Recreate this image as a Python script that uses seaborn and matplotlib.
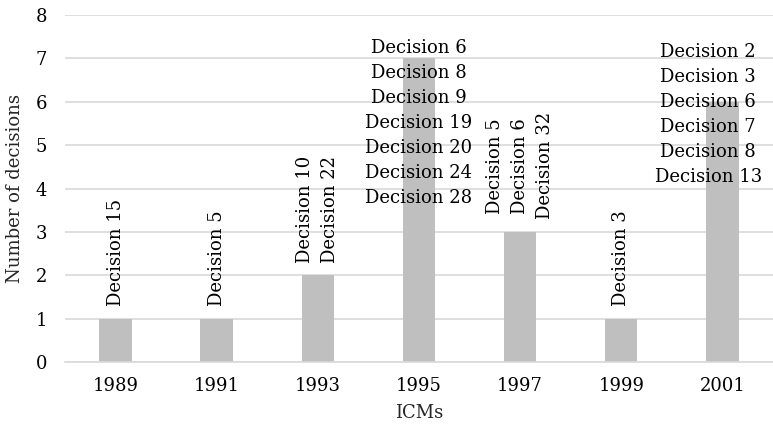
import matplotlib
matplotlib.use("Agg")
import matplotlib.pyplot as plt
import seaborn as sns
import pandas as pd

# ---- data ----
years = ['1989', '1991', '1993', '1995', '1997', '1999', '2001']
counts = [1, 1, 2, 7, 3, 1, 6]
decisions = [
    ['Decision 15'],
    ['Decision 5'],
    ['Decision 10', 'Decision 22'],
    ['Decision 6', 'Decision 8', 'Decision 9', 'Decision 19', 'Decision 20', 'Decision 24', 'Decision 28'],
    ['Decision 5', 'Decision 6', 'Decision 32'],
    ['Decision 3'],
    ['Decision 2', 'Decision 3', 'Decision 6', 'Decision 7', 'Decision 8', 'Decision 13'],
]
x_title = 'ICMs'
y_title = 'Number of decisions'

# ---- label layout (style, not data) ----
# None -> rotated label just above the bar; tuple -> horizontal block centred at (dx, y)
label_layout = [None, None, None, (0.0, 5.52), None, None, (-0.14, 5.70)]

sns.set_theme(style='white')
plt.rcParams['font.family'] = ['DejaVu Serif']
FS = 13

df = pd.DataFrame({'year': years, 'count': counts})

fig = plt.figure(figsize=(7.73, 4.30), dpi=100)
ax = fig.add_axes([0.084, 0.158, 0.916, 0.807])

sns.barplot(data=df, x='year', y='count', color='#bfbfbf', saturation=1,
            width=0.32, linewidth=0, ax=ax, zorder=2)

ax.set_xlim(-0.5, 6.5)
ax.set_ylim(0, 8)
ax.set_yticks(range(0, 9))
ax.yaxis.grid(True, color='#d9d9d9', linewidth=1.2, zorder=0)
ax.set_axisbelow(True)
for s in ['top', 'right', 'left']:
    ax.spines[s].set_visible(False)
ax.spines['bottom'].set_color('#d9d9d9')
ax.spines['bottom'].set_linewidth(1.2)
ax.tick_params(axis='both', length=0, labelsize=FS, colors='black')
ax.tick_params(axis='y', pad=13)
ax.tick_params(axis='x', pad=11)
ax.set_xlabel(x_title, fontsize=FS, labelpad=6)
ax.set_ylabel(y_title, fontsize=FS, labelpad=8)

for i, (c, labs, lay) in enumerate(zip(counts, decisions, label_layout)):
    text = '\n'.join(labs)
    if lay is None:
        ax.annotate(text, xy=(i, c), xytext=(0, 9), textcoords='offset points',
                    rotation=90, ha='center', va='bottom', multialignment='center',
                    fontsize=FS, color='black', linespacing=1.5, zorder=3)
    else:
        dx, yy = lay
        ax.text(i + dx, yy, text, ha='center', va='center', multialignment='center',
                fontsize=FS, color='black', linespacing=1.5, zorder=3)

fig.savefig('out.png', dpi=100)
